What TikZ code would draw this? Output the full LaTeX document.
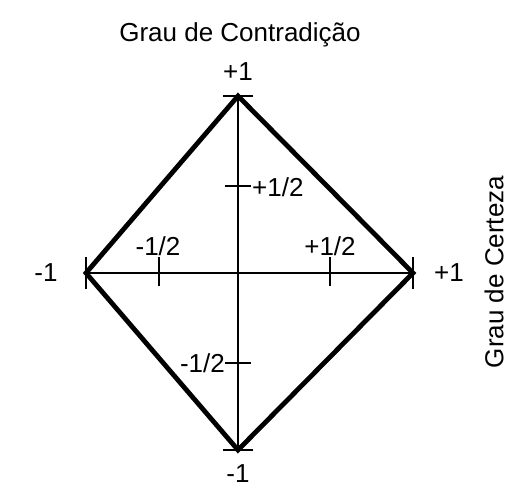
\documentclass[tikz,border=0pt]{standalone}
\usepackage{fontspec}
\setmainfont{Liberation Sans}
\begin{document}
\begin{tikzpicture}[x=1pt,y=-1pt,
  lbl/.style={inner sep=0pt,font=\fontsize{26}{30}\selectfont},
  edge/.style={line width=4.8pt,line join=miter},
  axis/.style={line width=2.4pt},
  tick/.style={line width=2.8pt}]
\useasboundingbox (0,0) rectangle (516,491);
\coordinate (T) at (238,96);
\coordinate (B) at (238,450);
\coordinate (L) at (86,273);
\coordinate (R) at (413,273);
% diamond
\draw[edge] (T) -- (R) -- (B) -- (L) -- cycle;
% axes
\draw[axis] (T) -- (B);
\draw[axis] (L) -- (R);
% end ticks
\draw[tick] ([xshift=-15pt]T) -- ([xshift=15pt]T);
\draw[tick] ([xshift=-15pt]B) -- ([xshift=15pt]B);
\draw[tick] ([yshift=-16pt]L) -- ([yshift=16pt]L);
\draw[tick] ([yshift=-16pt]R) -- ([yshift=16pt]R);
% inner ticks
\coordinate (VU) at (238,186);
\coordinate (VD) at (238,363);
\coordinate (HL) at (159,273);
\coordinate (HR) at (330,273);
\draw[tick] ([xshift=-13pt]VU) -- ([xshift=13pt]VU);
\draw[tick] ([xshift=-13pt]VD) -- ([xshift=13pt]VD);
\draw[tick] ([yshift=-13pt]HL) -- ([yshift=16pt]HL);
\draw[tick] ([yshift=-13pt]HR) -- ([yshift=16pt]HR);
% labels
\node[lbl] (title) at (240,35) {Grau de Contradição};
\node[lbl] (lt) at (238,72) {+1};
\node[lbl] (lb) at (238,474) {-1};
\node[lbl] (ll) at (46,273) {-1};
\node[lbl] (lr) at (449,273) {+1};
\node[lbl,anchor=west] (lvu) at (252,187) {+1/2};
\node[lbl,anchor=east] (lvd) at (225,363) {-1/2};
\node[lbl] (lhl) at (158,246) {-1/2};
\node[lbl] (lhr) at (330,246) {+1/2};
\node[lbl,rotate=90] (side) at (494,272) {Grau de Certeza};
\end{tikzpicture}
\end{document}
